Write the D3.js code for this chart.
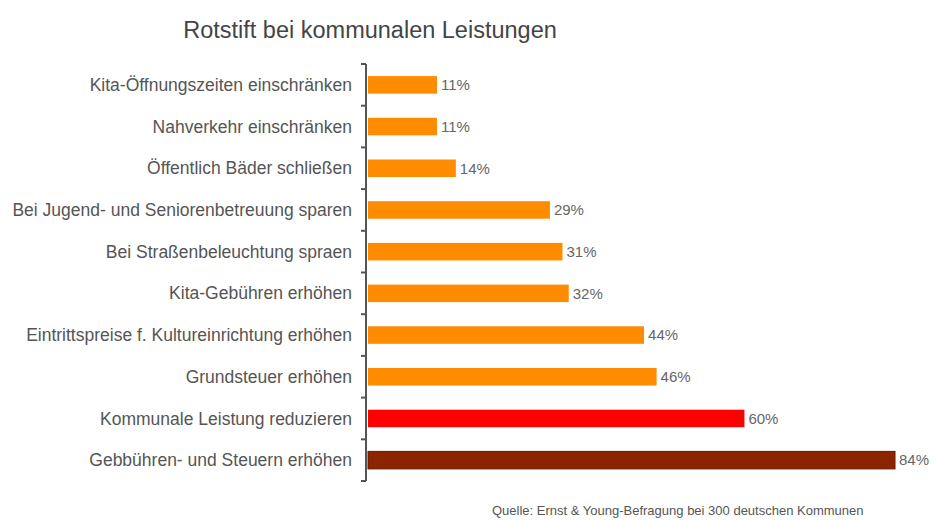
<!DOCTYPE html>
<html>
<head>
<meta charset="utf-8">
<script src="https://cdn.jsdelivr.net/npm/d3@7"></script>
<style>
  body { margin: 0; background: #fff; }
  text { font-family: "Liberation Sans", Arial, sans-serif; }
</style>
</head>
<body>
<svg id="chart" width="933" height="520"></svg>
<script>
const categories = [
    "Kita-Öffnungszeiten einschränken",
    "Nahverkehr einschränken",
    "Öffentlich Bäder schließen",
    "Bei Jugend- und Seniorenbetreuung sparen",
    "Bei Straßenbeleuchtung spraen",
    "Kita-Gebühren erhöhen",
    "Eintrittspreise f. Kultureinrichtung erhöhen",
    "Grundsteuer erhöhen",
    "Kommunale Leistung reduzieren",
    "Gebbühren- und Steuern erhöhen"
];
const values = [11, 11, 14, 29, 31, 32, 44, 46, 60, 84];
const barColors = ["#ff8c00", "#ff8c00", "#ff8c00", "#ff8c00", "#ff8c00",
    "#ff8c00", "#ff8c00", "#ff8c00", "#ff0000", "#8b2500"];
const title = "Rotstift bei kommunalen Leistungen";
const source = "Quelle: Ernst & Young-Befragung bei 300 deutschen Kommunen";

const margin = {top: 64, left: 366, bottom: 39};
const height = 520;

const svg = d3.select("#chart");

const x = d3.scaleLinear()
    .domain([0, 84])
    .range([margin.left + 2, 895]);

const y = d3.scaleBand()
    .domain(categories)
    .range([margin.top, height - margin.bottom])
    .paddingInner(0.58)
    .paddingOuter(0.29);

svg.append("text")
    .attr("x", 370)
    .attr("y", 38)
    .attr("text-anchor", "middle")
    .attr("font-size", "23.5px")
    .attr("fill", "#444")
    .text(title);

svg.selectAll("rect.bar")
    .data(values)
    .enter().append("rect")
    .attr("class", "bar")
    .attr("x", x(0))
    .attr("y", (d, i) => y(categories[i]))
    .attr("width", d => x(d) - x(0))
    .attr("height", y.bandwidth())
    .attr("fill", (d, i) => barColors[i])
    .attr("stroke", (d, i) => i == 9 ? "#6a1800" : "none")
    .attr("stroke-width", 1);

svg.selectAll("text.value")
    .data(values)
    .enter().append("text")
    .attr("class", "value")
    .attr("x", d => x(d) + 4)
    .attr("y", (d, i) => y(categories[i]) + y.bandwidth() / 2)
    .attr("dy", "0.35em")
    .attr("font-size", "15px")
    .attr("fill", "#666")
    .text(d => d + "%");

// category axis, ticks sit between the bands
const yAxis = svg.append("g")
    .attr("transform", `translate(${margin.left},0)`);

yAxis.append("line")
    .attr("x1", 0).attr("x2", 0)
    .attr("y1", margin.top).attr("y2", height - margin.bottom)
    .attr("stroke", "#555")
    .attr("stroke-width", 2);

const bounds = d3.range(categories.length + 1).map(i => margin.top + i * (height - margin.top - margin.bottom) / categories.length);

yAxis.selectAll("line.tick")
    .data(bounds)
    .enter().append("line")
    .attr("class", "tick")
    .attr("x1", -5).attr("x2", 0)
    .attr("y1", d => d).attr("y2", d => d)
    .attr("stroke", "#555")
    .attr("stroke-width", 2);

yAxis.selectAll("text.label")
    .data(categories)
    .enter().append("text")
    .attr("class", "label")
    .attr("x", -14)
    .attr("y", d => y(d) + y.bandwidth() / 2)
    .attr("dy", "0.35em")
    .attr("text-anchor", "end")
    .attr("font-size", "17.5px")
    .attr("fill", "#555")
    .text(d => d);

svg.append("text")
    .attr("x", 492)
    .attr("y", 515)
    .attr("font-size", "13px")
    .attr("fill", "#555")
    .text(source);
</script>
</body>
</html>
